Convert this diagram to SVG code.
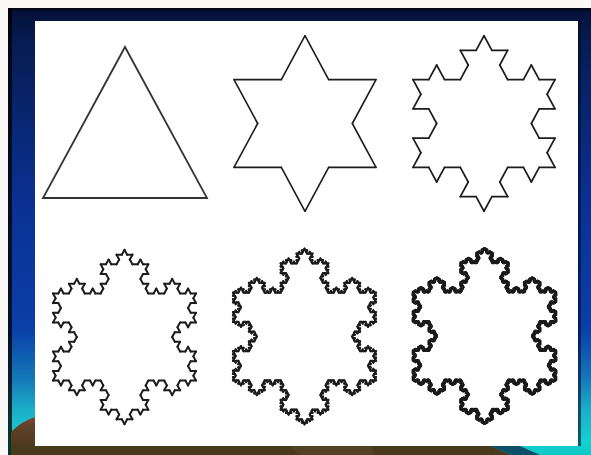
<svg xmlns="http://www.w3.org/2000/svg" xmlns:xlink="http://www.w3.org/1999/xlink" width="591" height="455" viewBox="0 0 591 455">
<style>
.flake{fill:none;stroke:#1c1c1c;stroke-linecap:round;stroke-linejoin:round}
</style>
<defs>
<linearGradient id="bg" gradientUnits="userSpaceOnUse" x1="0" y1="8" x2="0" y2="455">
<stop offset="0" stop-color="#000510"/>
<stop offset="0.01" stop-color="#05123a"/>
<stop offset="0.08" stop-color="#071c52"/>
<stop offset="0.42" stop-color="#0a3090"/>
<stop offset="0.72" stop-color="#0a40a8"/>
<stop offset="0.83" stop-color="#1478b8"/>
<stop offset="0.9" stop-color="#1cb0c8"/>
<stop offset="0.97" stop-color="#14d0d0"/>
<stop offset="1" stop-color="#10c8c8"/>
</linearGradient>
<linearGradient id="hill" x1="0" y1="0" x2="0" y2="1">
<stop offset="0" stop-color="#7a4536"/>
<stop offset="0.3" stop-color="#5e4026"/>
<stop offset="1" stop-color="#45331a"/>
</linearGradient>
<path id="k0" d="M0,0H1" vector-effect="non-scaling-stroke"/>
<g id="k1"><use href="#k0" transform="scale(0.3333333)"/><use href="#k0" transform="translate(0.3333333,0) rotate(-60) scale(0.3333333)"/><use href="#k0" transform="translate(0.5,-0.2886751) rotate(60) scale(0.3333333)"/><use href="#k0" transform="translate(0.6666667,0) scale(0.3333333)"/></g>
<g id="k2"><use href="#k1" transform="scale(0.3333333)"/><use href="#k1" transform="translate(0.3333333,0) rotate(-60) scale(0.3333333)"/><use href="#k1" transform="translate(0.5,-0.2886751) rotate(60) scale(0.3333333)"/><use href="#k1" transform="translate(0.6666667,0) scale(0.3333333)"/></g>
<g id="k3"><use href="#k2" transform="scale(0.3333333)"/><use href="#k2" transform="translate(0.3333333,0) rotate(-60) scale(0.3333333)"/><use href="#k2" transform="translate(0.5,-0.2886751) rotate(60) scale(0.3333333)"/><use href="#k2" transform="translate(0.6666667,0) scale(0.3333333)"/></g>
<g id="k4"><use href="#k3" transform="scale(0.3333333)"/><use href="#k3" transform="translate(0.3333333,0) rotate(-60) scale(0.3333333)"/><use href="#k3" transform="translate(0.5,-0.2886751) rotate(60) scale(0.3333333)"/><use href="#k3" transform="translate(0.6666667,0) scale(0.3333333)"/></g>
<g id="k5"><use href="#k4" transform="scale(0.3333333)"/><use href="#k4" transform="translate(0.3333333,0) rotate(-60) scale(0.3333333)"/><use href="#k4" transform="translate(0.5,-0.2886751) rotate(60) scale(0.3333333)"/><use href="#k4" transform="translate(0.6666667,0) scale(0.3333333)"/></g>
</defs>

<g id="background">
<rect x="0" y="0" width="591" height="455" fill="#fbf8f8"/>
<rect x="8" y="8" width="583" height="447" fill="url(#bg)"/>
<rect x="8" y="8" width="4" height="447" fill="#000" opacity="0.75"/>
<path d="M11,432 Q22,421 35,417 L35,455 L11,455 Z" fill="url(#hill)"/>
<path d="M11,446 L490,446 L512,455 L11,455 Z" fill="#4a3a1c"/>
<path d="M290,446 L370,446 L375,455 L300,455 Z" fill="#5a4828" opacity="0.5"/>
<path d="M490,446 L520,446 L540,455 L512,455 Z" fill="#0c3050" opacity="0.8"/>
<rect x="35" y="21" width="543" height="425" fill="#ffffff"/>
<rect x="578" y="21" width="3" height="425" fill="#020c30" opacity="0.6"/>
</g>

<g id="koch0">
<polygon points="125,47 207,198 43,198" fill="none" stroke="#333" stroke-width="1.8" stroke-linejoin="miter"/>
</g>

<g id="koch1" class="flake" stroke-width="1.6" transform="translate(305,123.5) scale(142,152)">
<use href="#k1" transform="translate(0,-0.5773503) rotate(60)"/>
<use href="#k1" transform="translate(0.5,0.2886751) rotate(180)"/>
<use href="#k1" transform="translate(-0.5,0.2886751) rotate(-60)"/>
</g>

<g id="koch2" class="flake" stroke-width="1.7" transform="translate(484,123.5) scale(142,152)">
<use href="#k2" transform="translate(0,-0.5773503) rotate(60)"/>
<use href="#k2" transform="translate(0.5,0.2886751) rotate(180)"/>
<use href="#k2" transform="translate(-0.5,0.2886751) rotate(-60)"/>
</g>

<g id="koch3" class="flake" stroke-width="2" transform="translate(124.5,337) scale(143,151)">
<use href="#k3" transform="translate(0,-0.5773503) rotate(60)"/>
<use href="#k3" transform="translate(0.5,0.2886751) rotate(180)"/>
<use href="#k3" transform="translate(-0.5,0.2886751) rotate(-60)"/>
</g>

<g id="koch4" class="flake" stroke-width="2.2" transform="translate(304.5,336.5) scale(143,152)">
<use href="#k4" transform="translate(0,-0.5773503) rotate(60)"/>
<use href="#k4" transform="translate(0.5,0.2886751) rotate(180)"/>
<use href="#k4" transform="translate(-0.5,0.2886751) rotate(-60)"/>
</g>

<g id="koch5" class="flake" stroke-width="2.5" transform="translate(484.5,336) scale(143,152)">
<use href="#k5" transform="translate(0,-0.5773503) rotate(60)"/>
<use href="#k5" transform="translate(0.5,0.2886751) rotate(180)"/>
<use href="#k5" transform="translate(-0.5,0.2886751) rotate(-60)"/>
</g>
</svg>
